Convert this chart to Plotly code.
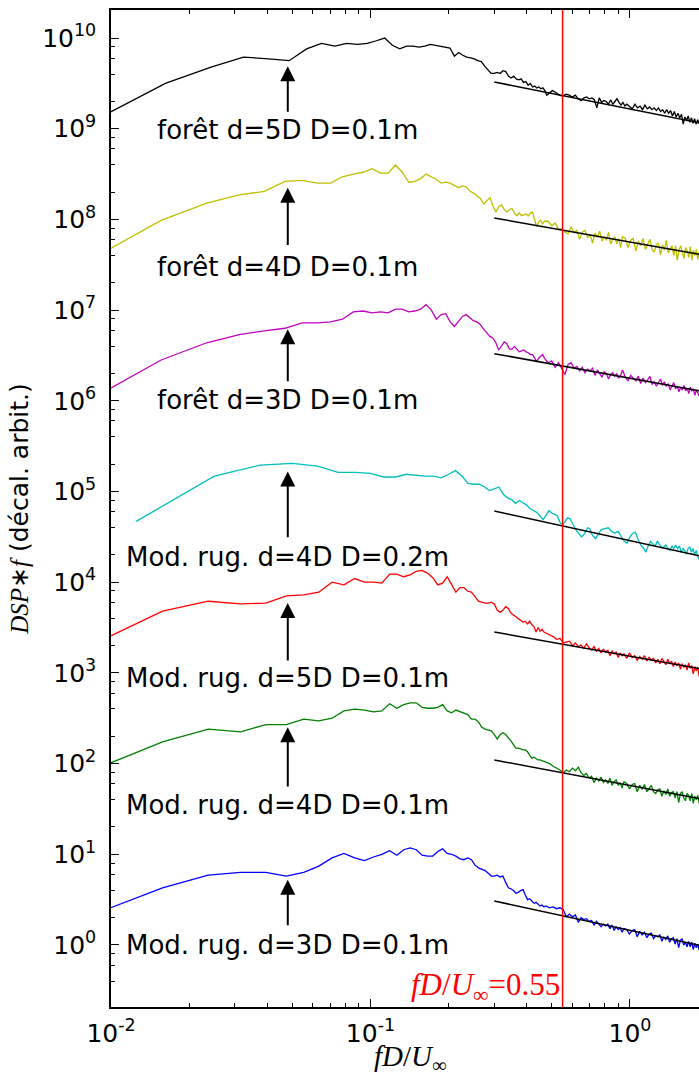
import math
import plotly.graph_objects as go

# ---------------- data ----------------
# frequency indices (spectral bins); f*D/U = n * DF
N_LOW = list(range(1, 61))
N_HIGH = list(range(62, 121, 2)) + list(range(123, 241, 3))
N_CYAN_HIGH = list(range(62, 149, 2))

DFS = [0.0081, 0.0078, 0.0078, 0.0125, 0.0079, 0.0079, 0.0079]

LABELS = ["forêt d=5D D=0.1m", "forêt d=4D D=0.1m", "forêt d=3D D=0.1m",
          "Mod. rug. d=4D D=0.2m", "Mod. rug. d=5D D=0.1m",
          "Mod. rug. d=4D D=0.1m", "Mod. rug. d=3D D=0.1m"]

# log10(DSP*f) values (arbitrary offsets)
BLACK_LOW = [9.05, 9.50, 9.68, 9.79, 9.77, 9.75, 9.88, 9.94, 9.91, 9.94,
             9.93, 9.94, 9.97, 10.0, 9.92, 9.88, 9.91, 9.91, 9.90, 9.91,
             9.93, 9.92, 9.91, 9.90, 9.89, 9.80, 9.84, 9.81, 9.79, 9.78,
             9.77, 9.75, 9.74, 9.69, 9.65, 9.61, 9.61, 9.62, 9.61, 9.64,
             9.63, 9.58, 9.56, 9.58, 9.55, 9.54, 9.55, 9.51, 9.52, 9.48,
             9.50, 9.46, 9.47, 9.45, 9.46, 9.44, 9.45, 9.42, 9.37, 9.39]
BLACK_HIGH = [9.42, 9.40, 9.37, 9.36, 9.38, 9.37, 9.35, 9.37, 9.33, 9.31,
              9.34, 9.35, 9.33, 9.34, 9.32, 9.23, 9.34, 9.29, 9.31, 9.30,
              9.27, 9.32, 9.27, 9.30, 9.33, 9.29, 9.26, 9.29, 9.25, 9.27,
              9.24, 9.22, 9.27, 9.23, 9.25, 9.21, 9.26, 9.22, 9.24, 9.21,
              9.23, 9.20, 9.23, 9.19, 9.21, 9.17, 9.21, 9.17, 9.20, 9.14,
              9.19, 9.13, 9.17, 9.12, 9.16, 9.05, 9.13, 9.09, 9.14, 9.07,
              9.12, 9.06, 9.11, 9.05, 9.10, 9.06, 9.08, 9.04, 9.08, 9.05]

YELLOW_LOW = [7.51, 7.99, 8.18, 8.27, 8.31, 8.42, 8.43, 8.40, 8.40, 8.47,
              8.50, 8.52, 8.56, 8.51, 8.51, 8.60, 8.52, 8.41, 8.42, 8.45,
              8.50, 8.47, 8.44, 8.40, 8.41, 8.40, 8.37, 8.35, 8.37, 8.36,
              8.31, 8.29, 8.26, 8.23, 8.17, 8.21, 8.24, 8.15, 8.08, 8.14,
              8.16, 8.11, 8.08, 8.11, 8.12, 8.07, 8.04, 8.07, 8.04, 8.05,
              8.06, 8.04, 8.07, 8.08, 8.01, 7.92, 7.97, 7.99, 7.95, 7.98]
YELLOW_HIGH = [7.98, 7.93, 7.96, 7.89, 7.90, 7.86, 7.84, 7.92, 7.85, 7.88,
               7.78, 7.86, 7.88, 7.80, 7.83, 7.74, 7.85, 7.80, 7.87, 7.76,
               7.81, 7.77, 7.86, 7.73, 7.78, 7.81, 7.73, 7.79, 7.69, 7.81,
               7.79, 7.69, 7.77, 7.79, 7.65, 7.76, 7.71, 7.79, 7.67, 7.72,
               7.78, 7.67, 7.64, 7.72, 7.74, 7.61, 7.72, 7.66, 7.77, 7.63,
               7.67, 7.71, 7.60, 7.71, 7.55, 7.66, 7.71, 7.62, 7.57, 7.69,
               7.65, 7.58, 7.70, 7.55, 7.66, 7.60, 7.67, 7.56, 7.65, 7.58]

MAGENTA_LOW = [5.97, 6.45, 6.64, 6.73, 6.77, 6.80, 6.86, 6.86, 6.87, 6.90,
               6.98, 6.99, 6.97, 6.98, 6.97, 7.01, 7.01, 6.98, 6.99, 7.01,
               7.06, 7.00, 6.90, 6.95, 6.96, 6.87, 6.82, 6.88, 6.93, 6.95,
               6.91, 6.88, 6.87, 6.84, 6.79, 6.75, 6.71, 6.69, 6.64, 6.56,
               6.60, 6.65, 6.63, 6.57, 6.57, 6.60, 6.57, 6.54, 6.55, 6.56,
               6.54, 6.53, 6.51, 6.51, 6.47, 6.43, 6.47, 6.49, 6.51, 6.47]
MAGENTA_HIGH = [6.42, 6.44, 6.37, 6.42, 6.36, 6.29, 6.40, 6.42, 6.36, 6.38,
                6.33, 6.37, 6.31, 6.35, 6.33, 6.36, 6.28, 6.34, 6.30, 6.26,
                6.32, 6.30, 6.24, 6.29, 6.31, 6.27, 6.30, 6.25, 6.28, 6.34,
                6.26, 6.22, 6.28, 6.25, 6.22, 6.27, 6.19, 6.25, 6.20, 6.23,
                6.27, 6.18, 6.21, 6.16, 6.20, 6.24, 6.17, 6.21, 6.16, 6.19,
                6.12, 6.17, 6.20, 6.13, 6.16, 6.10, 6.15, 6.12, 6.17, 6.11,
                6.14, 6.08, 6.15, 6.11, 6.13, 6.06, 6.12, 6.09, 6.05, 6.10]

CYAN_LOW = [4.67, 5.17, 5.29, 5.31, 5.28, 5.21, 5.21, 5.20, 5.16, 5.16,
            5.19, 5.18, 5.17, 5.17, 5.15, 5.19, 5.23, 5.17, 5.09, 5.08,
            5.08, 5.05, 5.01, 5.03, 5.05, 4.97, 4.93, 4.91, 4.87, 4.90,
            4.87, 4.85, 4.81, 4.79, 4.77, 4.73, 4.69, 4.74, 4.79, 4.76,
            4.75, 4.73, 4.66, 4.63, 4.67, 4.71, 4.70, 4.64, 4.60, 4.56,
            4.53, 4.50, 4.52, 4.56, 4.60, 4.59, 4.53, 4.50, 4.48, 4.52]
CYAN_HIGH = [4.58, 4.59, 4.60, 4.56, 4.54, 4.56, 4.50, 4.45, 4.43, 4.50,
             4.54, 4.55, 4.47, 4.41, 4.38, 4.33, 4.40, 4.45, 4.42, 4.40,
             4.45, 4.42, 4.38, 4.39, 4.41, 4.37, 4.35, 4.40, 4.37, 4.41,
             4.37, 4.40, 4.33, 4.37, 4.35, 4.31, 4.37, 4.39, 4.33, 4.37,
             4.30, 4.35, 4.28, 4.25]

RED_LOW = [3.27, 3.68, 3.79, 3.76, 3.77, 3.85, 3.86, 3.89, 4.00, 3.97,
           4.04, 4.00, 4.00, 3.99, 4.09, 4.09, 4.06, 4.08, 4.12, 4.13,
           4.10, 4.05, 3.97, 3.99, 4.06, 3.97, 3.89, 3.94, 3.94, 3.90,
           3.89, 3.84, 3.79, 3.78, 3.77, 3.77, 3.78, 3.76, 3.69, 3.67,
           3.69, 3.73, 3.71, 3.66, 3.64, 3.62, 3.60, 3.58, 3.56, 3.57,
           3.54, 3.57, 3.53, 3.51, 3.45, 3.50, 3.46, 3.48, 3.45, 3.44]
RED_HIGH = [3.42, 3.40, 3.37, 3.38, 3.33, 3.34, 3.35, 3.30, 3.33, 3.29,
            3.31, 3.27, 3.32, 3.28, 3.25, 3.29, 3.24, 3.27, 3.22, 3.26,
            3.23, 3.25, 3.19, 3.24, 3.21, 3.23, 3.17, 3.22, 3.19, 3.21,
            3.16, 3.22, 3.17, 3.19, 3.14, 3.18, 3.15, 3.19, 3.13, 3.17,
            3.14, 3.16, 3.11, 3.15, 3.10, 3.16, 3.12, 3.09, 3.15, 3.10,
            3.13, 3.07, 3.12, 3.08, 3.11, 3.04, 3.10, 3.06, 3.09, 3.03,
            3.11, 3.05, 3.08, 2.99, 3.07, 3.02, 3.06, 2.96, 3.05, 3.00]

GREEN_LOW = [1.89, 2.24, 2.38, 2.35, 2.43, 2.43, 2.49, 2.47, 2.50, 2.58,
             2.60, 2.59, 2.57, 2.58, 2.66, 2.61, 2.65, 2.67, 2.67, 2.62,
             2.61, 2.61, 2.62, 2.65, 2.58, 2.56, 2.59, 2.57, 2.55, 2.54,
             2.49, 2.49, 2.46, 2.40, 2.38, 2.37, 2.36, 2.32, 2.27, 2.32,
             2.34, 2.32, 2.29, 2.25, 2.21, 2.17, 2.17, 2.16, 2.15, 2.15,
             2.13, 2.09, 2.06, 2.07, 2.05, 2.04, 2.04, 2.03, 2.02, 2.01]
GREEN_HIGH = [2.00, 1.97, 1.95, 1.93, 1.90, 1.93, 1.91, 1.95, 1.92, 1.96,
              1.90, 1.87, 1.89, 1.84, 1.86, 1.79, 1.84, 1.81, 1.85, 1.79,
              1.82, 1.78, 1.84, 1.76, 1.80, 1.82, 1.76, 1.79, 1.73, 1.80,
              1.78, 1.72, 1.77, 1.78, 1.69, 1.76, 1.72, 1.77, 1.69, 1.72,
              1.76, 1.69, 1.67, 1.71, 1.72, 1.64, 1.70, 1.66, 1.72, 1.64,
              1.68, 1.69, 1.62, 1.69, 1.57, 1.67, 1.69, 1.62, 1.59, 1.67,
              1.65, 1.59, 1.67, 1.56, 1.64, 1.60, 1.65, 1.56, 1.63, 1.59]

BLUE_LOW = [0.30, 0.63, 0.77, 0.80, 0.80, 0.76, 0.80, 0.87, 0.96, 1.01,
            0.96, 0.93, 0.97, 1.00, 1.04, 0.99, 1.05, 1.07, 1.05, 0.99,
            0.98, 0.98, 1.03, 1.06, 1.01, 1.00, 0.98, 0.95, 0.94, 0.96,
            0.94, 0.88, 0.85, 0.83, 0.82, 0.79, 0.76, 0.76, 0.77, 0.75,
            0.76, 0.69, 0.63, 0.62, 0.60, 0.57, 0.58, 0.60, 0.61, 0.55,
            0.50, 0.51, 0.49, 0.46, 0.47, 0.45, 0.43, 0.44, 0.42, 0.43]
BLUE_HIGH = [0.41, 0.42, 0.40, 0.41, 0.39, 0.31, 0.34, 0.31, 0.33, 0.25,
             0.30, 0.28, 0.29, 0.26, 0.27, 0.22, 0.26, 0.23, 0.20, 0.23,
             0.21, 0.23, 0.18, 0.22, 0.16, 0.20, 0.17, 0.19, 0.14, 0.18,
             0.17, 0.12, 0.16, 0.17, 0.09, 0.15, 0.11, 0.14, 0.08, 0.12,
             0.13, 0.07, 0.10, 0.09, 0.11, 0.04, 0.09, 0.06, 0.10, 0.03,
             0.07, 0.08, 0.01, 0.07, -0.03, 0.05, 0.07, 0.00, 0.03, -0.02,
             0.04, -0.02, 0.03, -0.05, 0.02, -0.03, 0.01, -0.06, 0.00, -0.04]

SERIES = [
    (BLACK_LOW, BLACK_HIGH, N_HIGH),
    (YELLOW_LOW, YELLOW_HIGH, N_HIGH),
    (MAGENTA_LOW, MAGENTA_HIGH, N_HIGH),
    (CYAN_LOW, CYAN_HIGH, N_CYAN_HIGH),
    (RED_LOW, RED_HIGH, N_HIGH),
    (GREEN_LOW, GREEN_HIGH, N_HIGH),
    (BLUE_LOW, BLUE_HIGH, N_HIGH),
]

# power-law fits: log10 value at fD/U = 0.3 and slope (decades/decade)
FIT_X0 = 0.3
FIT_X1 = 2.0
FIT_LOG_AT_X0 = [9.515, 8.015, 6.52, 4.785, 3.451, 2.04, 0.485]
FIT_SLOPE = [-0.57, -0.507, -0.52, -0.626, -0.51, -0.54, -0.62]

# annotation arrows (log10 units)
ARROW_X = 0.048
ARROW_TIP = [9.69, 8.35, 6.79, 5.22, 3.77, 2.40, 0.72]
ARROW_TAIL = [9.17, 7.70, 6.20, 4.48, 3.12, 1.73, 0.20]
LABEL_Y = [8.99, 7.48, 6.01, 4.28, 2.94, 1.54, 0.00]

CUT_FREQ = 0.55

X_TICKS = [0.01, 0.1, 1.0]
X_TICKTEXT = ["10<sup>-2</sup>", "10<sup>-1</sup>", "10<sup>0</sup>"]
Y_TICKS = [10.0 ** k for k in range(0, 11)]
Y_TICKTEXT = ["10<sup>%d</sup>" % k for k in range(0, 11)]

# ---------------- styles ----------------
COLORS = ["#000000", "#bfbf00", "#bf00bf", "#00bfbf", "#ff0000", "#008000", "#0000ff"]
FONT = "DejaVu Sans"
SERIF = "Liberation Serif"
X_RANGE = [-2.0, 0.266]
Y_RANGE = [-0.684, 10.309]

fig = go.Figure()

for i, (low, high, nh) in enumerate(SERIES):
    df = DFS[i]
    xs = [n * df for n in N_LOW + nh]
    ys = [10.0 ** v for v in low + high]
    fig.add_trace(go.Scatter(x=xs, y=ys, mode="lines",
                             line=dict(color=COLORS[i], width=1.3),
                             showlegend=False, hoverinfo="skip"))

for i in range(len(SERIES)):
    fx = [FIT_X0, FIT_X1]
    fy = [10.0 ** (FIT_LOG_AT_X0[i] + FIT_SLOPE[i] * math.log10(x / FIT_X0)) for x in fx]
    fig.add_trace(go.Scatter(x=fx, y=fy, mode="lines",
                             line=dict(color="#000000", width=1.5),
                             showlegend=False, hoverinfo="skip"))

# vertical cut-off line
fig.add_trace(go.Scatter(x=[CUT_FREQ, CUT_FREQ], y=[10 ** Y_RANGE[0], 10 ** Y_RANGE[1]],
                         mode="lines", line=dict(color="#ff0000", width=1.5),
                         showlegend=False, hoverinfo="skip"))

annotations = []
lx = math.log10(ARROW_X)
for i in range(len(SERIES)):
    annotations.append(dict(x=lx, y=ARROW_TIP[i], ax=lx, ay=ARROW_TAIL[i],
                            xref="x", yref="y", axref="x", ayref="y",
                            text="", showarrow=True, arrowhead=2, arrowsize=1.5,
                            arrowwidth=2, arrowcolor="#000000", standoff=0, startstandoff=0))
    annotations.append(dict(x=lx, y=LABEL_Y[i], xref="x", yref="y", text=LABELS[i],
                            showarrow=False, xanchor="center", yanchor="middle",
                            font=dict(family=FONT, size=26, color="#000000")))

annotations.append(dict(x=math.log10(CUT_FREQ), y=0, xref="x", yref="paper",
                        text="<i>fD</i>/<i>U</i><sub>∞</sub>=0.55", showarrow=False,
                        xanchor="right", yanchor="bottom", xshift=-1, yshift=-2,
                        font=dict(family=SERIF, size=31, color="#ff0000")))

# x-axis title
annotations.append(dict(x=0.5085, y=0, xref="paper", yref="paper",
                        text="<i>fD</i>/<i>U</i><sub>∞</sub>", showarrow=False,
                        xanchor="center", yanchor="top", yshift=-31,
                        font=dict(family=SERIF, size=29, color="#000000")))

MINOR_X = [k * 10.0 ** e for e in (-3, -2, -1, 0) for k in range(2, 10)]
MINOR_Y = [k * 10.0 ** e for e in range(-1, 11) for k in (2, 4, 6, 8)]

fig.update_layout(
    width=699, height=1077,
    margin=dict(l=111, r=0, t=10, b=70),
    paper_bgcolor="white", plot_bgcolor="white",
    font=dict(family=FONT, size=25, color="#000000"),
    annotations=annotations,
    xaxis=dict(type="log", range=X_RANGE, showgrid=False, zeroline=False,
               showline=True, linecolor="#000000", linewidth=1.5, mirror="ticks",
               ticks="inside", ticklen=8, tickwidth=1, tickcolor="#000000",
               tickmode="array", tickvals=X_TICKS, ticktext=X_TICKTEXT,
               ticklabelstandoff=3,
               minor=dict(tickmode="array", tickvals=MINOR_X, ticks="inside",
                          ticklen=4, tickwidth=1, tickcolor="#000000", showgrid=False)),
    yaxis=dict(type="log", range=Y_RANGE, showgrid=False, zeroline=False,
               showline=True, linecolor="#000000", linewidth=1.5, mirror=False,
               ticks="inside", ticklen=8, tickwidth=1, tickcolor="#000000",
               tickmode="array", tickvals=Y_TICKS, ticktext=Y_TICKTEXT,
               ticklabelstandoff=8,
               minor=dict(tickmode="array", tickvals=MINOR_Y, ticks="inside",
                          ticklen=4, tickwidth=1, tickcolor="#000000", showgrid=False),
               title=dict(text="<span style='font-family:Liberation Serif'><i>DSP</i>∗<i>f</i></span> (décal. arbit.)",
                          font=dict(family=FONT, size=25), standoff=6)),
)

fig.write_html("out.html", config={"displayModeBar": False},
               post_script="document.body.style.margin='0px';")
